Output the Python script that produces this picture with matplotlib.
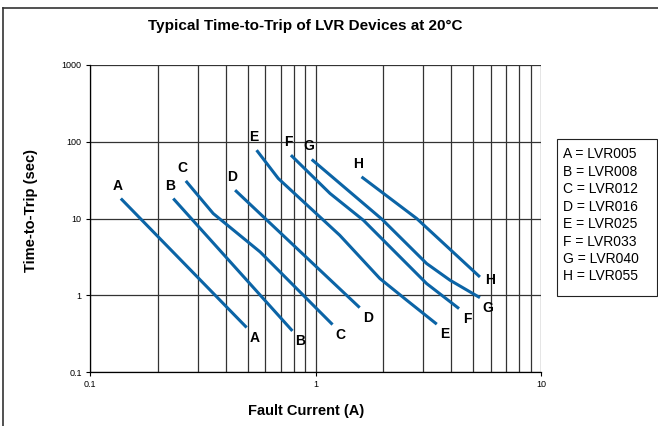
import matplotlib
matplotlib.use("Agg")
import matplotlib.pyplot as plt
from matplotlib.lines import Line2D
from matplotlib.patches import Rectangle
from matplotlib.ticker import LogLocator, FixedLocator, FixedFormatter, NullFormatter

# device curves: fault current (A) vs time-to-trip (s)
names = ["A", "B", "C", "D", "E", "F", "G", "H"]
parts = ["LVR005", "LVR008", "LVR012", "LVR016", "LVR025", "LVR033", "LVR040", "LVR055"]

a_x = [0.137, 0.495]
a_y = [18.2, 0.38]
b_x = [0.234, 0.79]
b_y = [18.2, 0.343]
c_x = [0.266, 0.352, 0.568, 1.19]
c_y = [30.9, 11.6, 3.67, 0.415]
d_x = [0.44, 1.57]
d_y = [23.4, 0.69]
e_x = [0.548, 0.684, 1.28, 1.93, 2.54, 3.45]
e_y = [77.7, 33.2, 6.06, 1.65, 0.86, 0.42]
f_x = [0.778, 1.16, 1.63, 3.11, 4.33]
f_y = [66.9, 21.2, 9.5, 1.42, 0.67]
g_x = [0.962, 1.97, 3.11, 3.95, 5.36]
g_y = [58.8, 9.8, 2.59, 1.57, 0.93]
h_x = [1.60, 2.81, 5.36]
h_y = [34.9, 10.0, 1.73]

curves_x = [a_x, b_x, c_x, d_x, e_x, f_x, g_x, h_x]
curves_y = [a_y, b_y, c_y, d_y, e_y, f_y, g_y, h_y]

x_ticks = [0.1, 1, 10]
y_ticks = [0.1, 1, 10, 100, 1000]

plt.rcParams['font.family'] = ['Liberation Sans', 'DejaVu Sans']

W, H = 658, 426
fig = plt.figure(figsize=(W / 100, H / 100), dpi=100)
ax = fig.add_axes([90 / W, 1 - 372 / H, 451 / W, 307 / H])

blue = '#0B64A6'
grid_c = '#333333'

ax.set_xscale('log')
ax.set_yscale('log')
ax.set_xlim(0.1, 10)
ax.set_ylim(0.1, 1000)

# grid: every minor vertical, only decade horizontals
ax.xaxis.set_minor_locator(LogLocator(base=10, subs=range(2, 10)))
ax.xaxis.set_minor_formatter(NullFormatter())
ax.yaxis.set_minor_locator(FixedLocator([]))
ax.xaxis.set_major_locator(FixedLocator(x_ticks))
ax.xaxis.set_major_formatter(FixedFormatter([str(v) for v in x_ticks]))
ax.yaxis.set_major_locator(FixedLocator(y_ticks))
ax.yaxis.set_major_formatter(FixedFormatter(["0.1", "1", "10", "100", "1000"]))
ax.grid(True, which='major', axis='both', color=grid_c, lw=0.9)
ax.grid(True, which='minor', axis='x', color=grid_c, lw=0.9)
ax.tick_params(which='major', direction='out', length=3, width=0.8,
               labelsize=6.5, color='black', pad=3)
ax.tick_params(which='minor', length=0)
for side in ['top', 'right']:
    ax.spines[side].set_visible(False)
for side in ['left', 'bottom']:
    ax.spines[side].set_color('black')
    ax.spines[side].set_linewidth(0.9)

px = 0.72  # points per pixel
for i, name in enumerate(names):
    xs, ys = curves_x[i], curves_y[i]
    ax.plot(xs, ys, color=blue, lw=2.2, solid_capstyle='butt', zorder=3)
    ax.annotate(name, (xs[0], ys[0]), xytext=(-3 * px, 13 * px),
                textcoords='offset points', ha='center', va='center',
                fontsize=10, fontweight='bold', zorder=4)
    off = (10 * px, -3 * px) if name == "H" else (8 * px, -10 * px)
    ax.annotate(name, (xs[-1], ys[-1]), xytext=off,
                textcoords='offset points', ha='center', va='center',
                fontsize=10, fontweight='bold', zorder=4)

fig.text(305 / W, 1 - 26 / H, "Typical Time-to-Trip of LVR Devices at 20\u00b0C",
         ha='center', va='center', fontsize=11, fontweight='bold')
fig.text(306 / W, 1 - 411 / H, "Fault Current (A)",
         ha='center', va='center', fontsize=10.5, fontweight='bold')
fig.text(31 / W, 1 - 211 / H, "Time-to-Trip (sec)", rotation=90,
         ha='center', va='center', fontsize=10.5, fontweight='bold')

# legend box
fig.patches.append(Rectangle((557 / W, 1 - 296 / H), 100 / W, 157 / H,
                             transform=fig.transFigure, fill=False,
                             edgecolor='#222222', lw=0.8))
for i, (n, p) in enumerate(zip(names, parts)):
    fig.text(563 / W, 1 - (154 + i * 17.5) / H, f"{n} = {p}",
             ha='left', va='center', fontsize=10)

# chart border (top and left edges only visible)
fig.lines.append(Line2D([2.5 / W, 1], [1 - 7.5 / H, 1 - 7.5 / H],
                        transform=fig.transFigure, color='#333333', lw=1.2))
fig.lines.append(Line2D([2.5 / W, 2.5 / W], [0, 1 - 7.5 / H],
                        transform=fig.transFigure, color='#333333', lw=1.2))

fig.savefig('out.png', dpi=100)
